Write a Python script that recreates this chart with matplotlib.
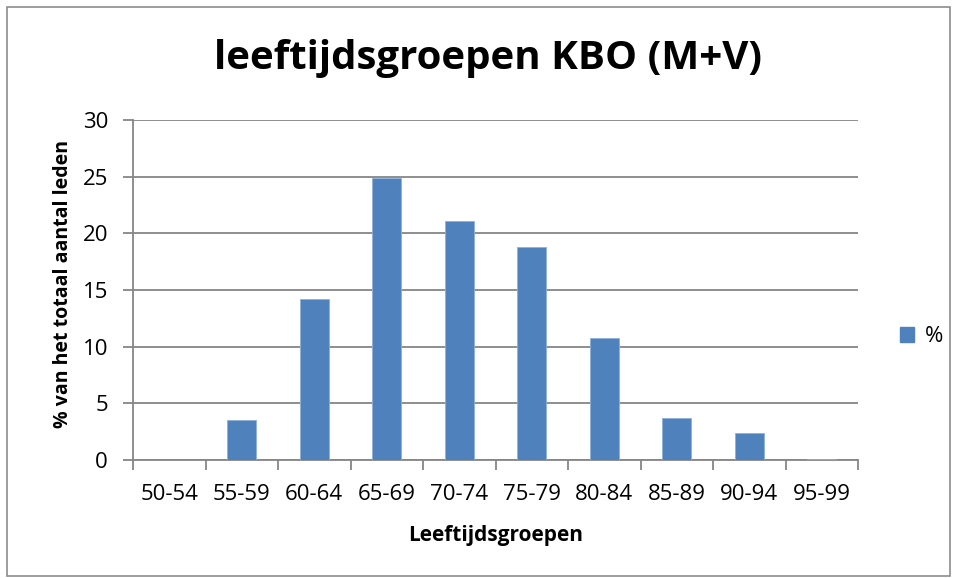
import matplotlib
matplotlib.use("Agg")
import matplotlib.pyplot as plt
from matplotlib.patches import Rectangle, Patch
import numpy as np

categories = ["50-54", "55-59", "60-64", "65-69", "70-74", "75-79", "80-84", "85-89", "90-94", "95-99"]
values = [0, 3.5, 14.2, 24.9, 21.1, 18.8, 10.8, 3.7, 2.4, 0.1]
yticks = [0, 5, 10, 15, 20, 25, 30]

plt.rcParams['font.family'] = ['Open Sans', 'DejaVu Sans']
gray = "#868686"
blue = "#4F81BD"

fig = plt.figure(figsize=(9.56, 5.78), dpi=100)
fig.patches.append(Rectangle((7/956, 1-576/578), 943/956, 569/578, transform=fig.transFigure,
                             fill=False, edgecolor="#8c8c8c", linewidth=1.2))
ax = fig.add_axes([133/956, 1-460/578, (858-133)/956, (460-120)/578])

x = np.arange(len(categories))
ax.bar(x, values, width=0.4, color=blue, edgecolor="#8EB0DA", linewidth=0.6, zorder=3, label="%")
ax.set_xlim(-0.5, len(categories) - 0.5)
ax.set_ylim(0, 30)
ax.set_yticks(yticks)
ax.set_yticklabels([str(t) for t in yticks], fontsize=16)
ax.yaxis.grid(True, color=gray, linewidth=1.3, zorder=0)
ax.set_axisbelow(True)

ax.set_xticks(x)
ax.set_xticklabels(categories, fontsize=16)
ax.tick_params(axis='x', length=0, pad=17)
ax.set_xticks(np.arange(-0.5, len(categories)), minor=True)
ax.tick_params(axis='x', which='minor', length=7, width=1.3, color=gray, direction='out')
ax.tick_params(axis='y', length=7, width=1.3, color=gray, direction='out', pad=11)

for s in ['top', 'right']:
    ax.spines[s].set_visible(False)
for s in ['left', 'bottom']:
    ax.spines[s].set_color(gray)
    ax.spines[s].set_linewidth(1.3)

ax.set_xlabel("Leeftijdsgroepen", fontsize=15, fontweight='bold', va='center', ha='center')
ax.xaxis.set_label_coords(0.5, (460-536)/340)
ax.set_ylabel("% van het totaal aantal leden", fontsize=14, fontweight='bold', va='center', ha='center')
ax.yaxis.set_label_coords((63-133)/725, (460-284)/340)

fig.text(488/956, 1-58/578, "leeftijdsgroepen KBO (M+V)", fontsize=29, fontweight='bold',
         ha='center', va='center')

handles = [Patch(facecolor=blue, edgecolor=blue)]
fig.legend(handles, ["%"], loc='center left', bbox_to_anchor=(880/956, 1-337/578), frameon=False,
           fontsize=16, handlelength=0.65, handleheight=0.65, handletextpad=0.45)

fig.savefig("out.png", dpi=100)
